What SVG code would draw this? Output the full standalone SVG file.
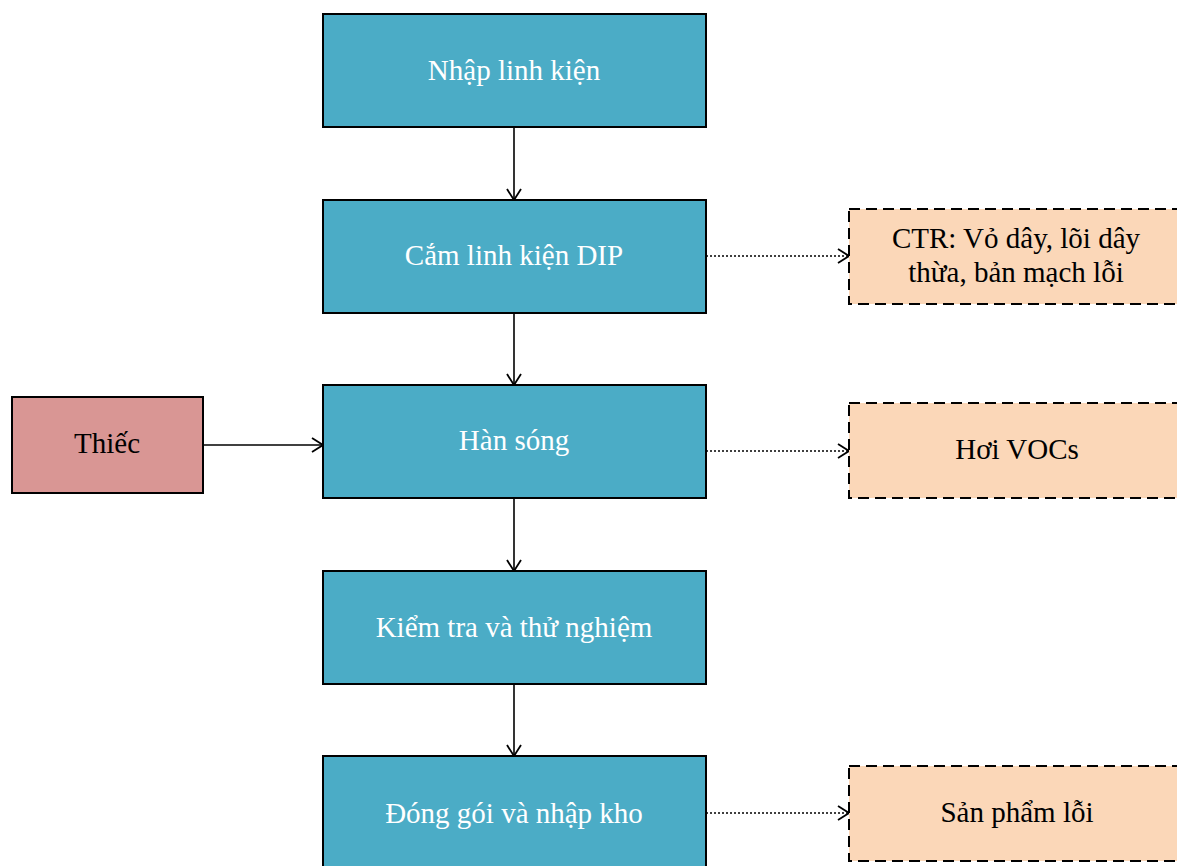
<svg xmlns="http://www.w3.org/2000/svg" width="1177" height="866" viewBox="0 0 1177 866">
  <style>
    .step { fill: #4BACC6; stroke: #000; stroke-width: 2; }
    .input { fill: #D99694; stroke: #000; stroke-width: 2; }
    .waste { fill: #FBD7B8; stroke: #000; stroke-width: 2; stroke-dasharray: 11 6; }
    .lbl { font-family: "Liberation Serif", "Times New Roman", serif; font-size: 29px; text-anchor: middle; }
    .light { fill: #FFFFFF; }
    .dark { fill: #000000; }
    .flow { stroke: #000; stroke-width: 1.6; fill: none; marker-end: url(#open); }
    .emit { stroke: #000; stroke-width: 1.6; fill: none; stroke-dasharray: 2 2; marker-end: url(#open); }
  </style>
  <defs>
    <marker id="open" viewBox="0 0 16 16" refX="15" refY="8" markerWidth="16" markerHeight="16" markerUnits="userSpaceOnUse" orient="auto">
      <path d="M4,1 L15,8 L4,15" fill="none" stroke="#000" stroke-width="1.8" stroke-dasharray="none"/>
    </marker>
  </defs>
  <rect width="1177" height="866" fill="#FFFFFF"/>

  <g id="connectors">
    <line class="flow" x1="514" y1="127" x2="514" y2="200"/>
    <line class="flow" x1="514" y1="313" x2="514" y2="385"/>
    <line class="flow" x1="514" y1="498" x2="514" y2="571"/>
    <line class="flow" x1="514" y1="684" x2="514" y2="756"/>
    <line class="flow" x1="203" y1="445" x2="323" y2="445"/>
    <line class="emit" x1="706" y1="256" x2="849" y2="256"/>
    <line class="emit" x1="706" y1="451" x2="849" y2="451"/>
    <line class="emit" x1="706" y1="813" x2="849" y2="813"/>
  </g>

  <g id="nhap-linh-kien">
    <rect class="step" x="323" y="14" width="383" height="113"/>
    <text class="lbl light" x="514" y="80">Nhập linh kiện</text>
  </g>
  <g id="cam-linh-kien-dip">
    <rect class="step" x="323" y="200" width="383" height="113"/>
    <text class="lbl light" x="514" y="265">Cắm linh kiện DIP</text>
  </g>
  <g id="han-song">
    <rect class="step" x="323" y="385" width="383" height="113"/>
    <text class="lbl light" x="514" y="450">Hàn sóng</text>
  </g>
  <g id="kiem-tra">
    <rect class="step" x="323" y="571" width="383" height="113"/>
    <text class="lbl light" x="514" y="637">Kiểm tra và thử nghiệm</text>
  </g>
  <g id="dong-goi">
    <rect class="step" x="323" y="756" width="383" height="120"/>
    <text class="lbl light" x="514" y="823">Đóng gói và nhập kho</text>
  </g>

  <g id="thiec">
    <rect class="input" x="12" y="397" width="191" height="96"/>
    <text class="lbl dark" x="107" y="453">Thiếc</text>
  </g>

  <g id="ctr">
    <rect class="waste" x="849" y="209" width="345" height="95"/>
    <text class="lbl dark" x="1016" y="248">CTR: Vỏ dây, lõi dây</text>
    <text class="lbl dark" x="1016" y="282">thừa, bản mạch lỗi</text>
  </g>
  <g id="hoi-vocs">
    <rect class="waste" x="849" y="403" width="345" height="95"/>
    <text class="lbl dark" x="1017" y="459">Hơi VOCs</text>
  </g>
  <g id="san-pham-loi">
    <rect class="waste" x="849" y="766" width="345" height="95"/>
    <text class="lbl dark" x="1017" y="822">Sản phẩm lỗi</text>
  </g>
</svg>
